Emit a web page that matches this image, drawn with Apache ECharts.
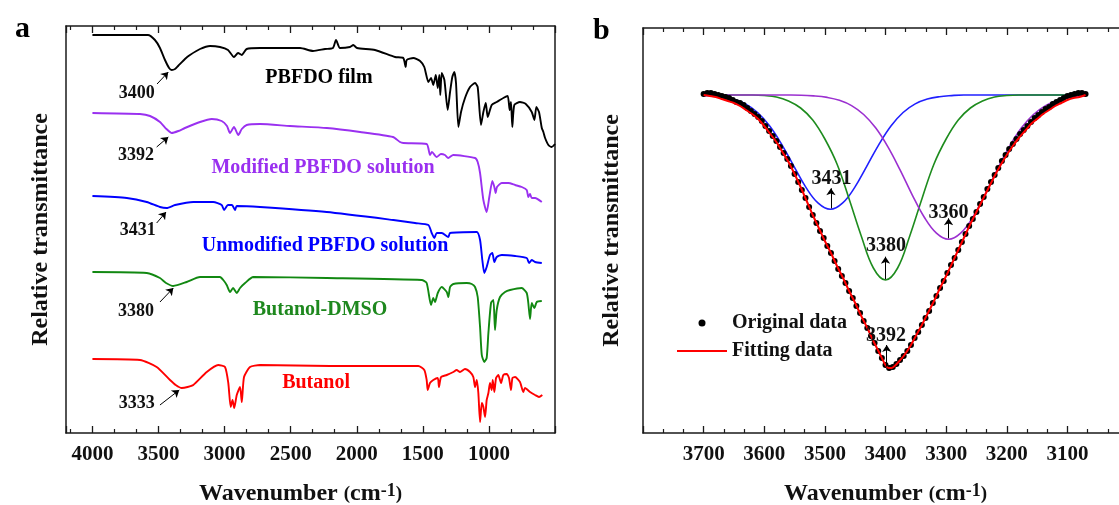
<!DOCTYPE html>
<html><head><meta charset="utf-8">
<script src="https://cdn.jsdelivr.net/npm/echarts@6/dist/echarts.min.js"></script>
<style>html,body{margin:0;padding:0;background:#fff}#c{width:1119px;height:505px}</style>
</head><body><div id="c"></div><script>
// ---------- Panel a : FTIR spectra (wavenumber, relative transmittance offset units) ----------
const filmData = [[4000,398],[3580,398],[3527,393],[3489,385],[3451,373],[3420,365],[3400,363],[3375,364],[3352,367],[3300,374],[3262,378],[3186,384],[3110,387],[3035,386],[2974,383],[2929,376],[2898,380],[2870,378],[2833,384],[2732,385],[2429,385],[2331,382],[2240,384],[2180,385],[2157,393],[2127,385],[2051,386],[2026,388],[1998,385],[1862,383],[1710,376],[1648,375],[1630,366],[1622,373],[1572,375],[1521,372],[1489,366],[1458,351],[1438,355],[1421,348],[1402,358],[1387,345],[1375,358],[1368,338],[1357,360],[1337,353],[1312,323],[1294,341],[1277,356],[1262,361],[1249,350],[1231,306],[1211,321],[1181,335],[1143,346],[1105,350],[1085,346],[1060,308],[1042,321],[1024,330],[1009,316],[979,328],[941,331],[891,335],[858,337],[843,323],[833,331],[823,306],[808,328],[765,331],[721,329],[676,321],[656,313],[641,326],[621,321],[600,305],[588,301],[575,295],[550,288],[525,286],[500,289]];
const modifiedData = [[4000,320],[3640,319],[3564,317],[3489,311],[3440,304],[3400,300],[3350,302],[3300,305],[3186,311],[3097,314],[3022,312],[2982,307],[2959,300],[2929,306],[2896,298],[2870,304],[2833,308],[2732,309],[2505,307],[2227,305],[1975,301],[1726,296],[1673,291],[1648,290],[1471,289],[1446,278],[1431,281],[1396,276],[1363,279],[1333,278],[1308,275],[1270,278],[1105,275],[1085,271],[1067,260],[1042,233],[1017,221],[997,236],[974,252],[959,246],[949,240],[939,246],[903,250],[853,250],[802,248],[751,246],[714,243],[702,236],[689,239],[676,235],[651,235],[600,231]];
const unmodifiedData = [[4000,237],[3740,235],[3589,231],[3489,226],[3438,225],[3375,228],[3237,231],[3086,231],[3022,228],[3004,223],[2974,228],[2944,228],[2921,223],[2908,227],[2732,226],[2227,221],[1723,213],[1559,210],[1458,208],[1433,200],[1413,195],[1395,200],[1357,200],[1307,196],[1294,200],[1092,201],[1067,193],[1050,173],[1035,160],[1017,166],[992,178],[974,180],[959,171],[941,176],[903,178],[802,177],[714,175],[696,170],[676,173],[651,171],[600,170]];
const butanolDmsoData = [[4000,161],[3589,160],[3489,155],[3443,150],[3388,147],[3287,151],[3186,156],[3035,156],[3010,153],[2984,148],[2959,141],[2936,145],[2908,140],[2883,145],[2845,150],[2783,156],[2227,155],[1509,153],[1471,150],[1438,128],[1421,135],[1408,131],[1387,140],[1357,146],[1319,141],[1307,136],[1294,146],[1269,149],[1168,150],[1130,149],[1105,146],[1085,136],[1067,106],[1054,78],[1035,71],[1017,75],[1004,100],[984,130],[966,133],[954,103],[941,123],[916,136],[878,141],[840,143],[752,145],[714,140],[702,130],[689,114],[676,130],[656,125],[638,131],[600,132]];
const butanolData = [[4000,74],[3640,73],[3514,66],[3413,53],[3370,48],[3324,45],[3280,46],[3237,48],[3135,61],[3048,68],[2997,66],[2972,50],[2954,26],[2940,33],[2927,25],[2908,38],[2883,46],[2870,31],[2853,56],[2808,66],[2732,68],[2202,67],[1534,67],[1489,63],[1471,53],[1463,43],[1446,50],[1421,53],[1387,55],[1378,46],[1362,56],[1319,58],[1269,61],[1244,63],[1219,61],[1181,64],[1143,61],[1118,56],[1105,46],[1092,53],[1080,40],[1067,11],[1054,30],[1042,26],[1029,16],[1017,33],[1004,40],[992,50],[979,43],[971,53],[959,41],[946,55],[929,58],[908,50],[891,58],[865,59],[848,55],[833,43],[822,55],[802,56],[765,51],[740,41],[727,45],[689,41],[651,38],[621,36],[596,38]];
const spectraNames = ['PBFDO film','Modified PBFDO solution','Unmodified PBFDO solution','Butanol-DMSO','Butanol'];
const spectraLabelPos = [[2286,355],[2255,265],[2240,187],[2278,123],[2308,50]];
const peakLabelsA = ['3400','3392','3431','3380','3333'];
const peakLabelPosA = [[3665,340],[3670,278],[3657,203],[3670,122],[3665,30]];
const peakArrowsA = [[[3511,349],[3426,361]],[[3514,286],[3426,296]],[[3514,210],[3443,221]],[[3489,131],[3388,145]],[[3489,28],[3343,43]]];
const ticksA = [1000,1500,2000,2500,3000,3500,4000];

// ---------- Panel b : peak fitting of the O-H band ----------
const originalData = [[3700,339],[3694,340],[3688,340],[3682,339],[3676,338],[3670,337],[3664,336],[3658,335],[3652,333],[3646,331],[3640,330],[3634,328],[3628,325],[3622,322],[3616,319],[3610,316],[3604,312],[3598,307],[3592,302],[3586,297],[3580,292],[3574,286],[3568,280],[3562,274],[3556,267],[3550,259],[3544,251],[3538,243],[3532,235],[3526,226],[3520,218],[3514,210],[3508,202],[3502,195],[3496,187],[3490,180],[3484,172],[3478,164],[3472,157],[3466,150],[3460,142],[3454,135],[3448,127],[3442,120],[3436,112],[3430,105],[3424,97],[3418,90],[3412,82],[3406,75],[3400,68],[3394,65],[3388,66],[3382,69],[3376,73],[3370,77],[3364,82],[3358,88],[3352,95],[3346,101],[3340,108],[3334,115],[3328,122],[3322,130],[3316,137],[3310,145],[3304,152],[3298,160],[3292,168],[3286,175],[3280,183],[3274,191],[3268,199],[3262,207],[3256,214],[3250,221],[3244,229],[3238,236],[3232,244],[3226,251],[3220,258],[3214,265],[3208,272],[3202,278],[3196,284],[3190,289],[3184,294],[3178,299],[3172,303],[3166,307],[3160,311],[3154,315],[3148,318],[3142,321],[3136,324],[3130,326],[3124,329],[3118,331],[3112,333],[3106,335],[3100,337],[3094,338],[3088,339],[3082,340],[3076,340],[3070,339]];
const fittingData = [[3700,338],[3690,337],[3680,336],[3670,334],[3660,332],[3650,330],[3640,327],[3630,323],[3620,319],[3610,314],[3600,307],[3590,299],[3580,291],[3570,281],[3560,271],[3550,259],[3540,246],[3530,232],[3520,218],[3510,205],[3500,192],[3490,180],[3480,167],[3470,155],[3460,142],[3450,130],[3440,117],[3430,105],[3420,92],[3410,80],[3400,68],[3395,65],[3390,65],[3385,67],[3380,70],[3370,77],[3360,86],[3350,97],[3340,108],[3330,120],[3320,132],[3310,145],[3300,157],[3290,170],[3280,183],[3270,196],[3260,209],[3250,221],[3240,233],[3230,245],[3220,257],[3210,268],[3200,278],[3190,287],[3180,295],[3170,302],[3160,309],[3150,314],[3140,319],[3130,323],[3120,327],[3110,330],[3100,333],[3090,335],[3080,336],[3070,338]];
const peak3431 = [[3700,337.6],[3691,337.4],[3671,336.3],[3651,333.9],[3631,329.1],[3611,320.5],[3591,307],[3571,288.4],[3551,266.6],[3531,245.4],[3511,229.8],[3491,223.7],[3471,229.8],[3451,245.4],[3431,266.6],[3411,288.4],[3391,307],[3371,320.5],[3351,329.1],[3331,333.9],[3311,336.3],[3291,337.4],[3271,338],[3070,338]];
const peak3380 = [[3700,338],[3620,338],[3600,337.5],[3580,336],[3560,332],[3540,325],[3520,313],[3500,294],[3480,269],[3460,234],[3440,197],[3420,165],[3400,153],[3380,165],[3360,197],[3340,234],[3320,269],[3300,294],[3280,313],[3260,325],[3240,332],[3220,336],[3200,337.5],[3180,338],[3070,338]];
const peak3360 = [[3700,338],[3556,338],[3516,337],[3496,335.6],[3476,332.7],[3456,327.4],[3436,318.5],[3416,304.9],[3396,286.1],[3376,263.1],[3356,238.2],[3336,215.7],[3316,199.8],[3296,193.7],[3276,199.8],[3256,215.7],[3236,238.2],[3216,263.1],[3196,286.1],[3176,304.9],[3156,318.5],[3136,327.4],[3116,332.7],[3096,335.6],[3070,337.3]];
const peakLabelsB = ['3431','3380','3360','3392'];
const peakLabelPosB = [[3489,254],[3399,187],[3296,220.5],[3399,97]];
const peakArrowsB = [[[3490,224.7],[3490,244.7]],[[3400,153.7],[3400,176.3]],[[3296,194.7],[3296,214.7]],[[3398,66.3],[3398,88]]];
const ticksB = [3100,3200,3300,3400,3500,3600,3700];

// ---------- styles ----------
const FONT = '"Liberation Serif","Times New Roman",serif';
const INK = '#111';
const colorsA = ['#000000','#9a30f0','#0000ff','#118811','#ff0000'];
const labelColorsA = ['#000000','#9a30f0','#0000ff','#1e881e','#ff0000'];
const HIDDEN = {color:'rgba(0,0,0,0)', opacity:1};
const LINE_ICON = 'path://M0,0h0.1v0.1h-0.1z M0,2.6h50v1.8h-50z M49.9,6.9h0.1v0.1h-0.1z';

function xAxisCfg(grid, min, max, interval, pos, showLabels, ticks, nameRich, namePad){
  const ax = {
    gridIndex: grid, type:'value', min:min, max:max, interval:interval, inverse:true, position:pos,
    axisLine:{show:true, onZero:false, lineStyle:{color:'#1a1a1a', width:1.5}},
    axisTick:{show:true, inside:true, length:7, lineStyle:{color:'#1a1a1a', width:1.3}},
    minorTick:{show:true, splitNumber:3, length:4, lineStyle:{color:'#1a1a1a', width:1.2}},
    splitLine:{show:false}, minorSplitLine:{show:false},
    axisLabel:{show:showLabels, margin:11, fontFamily:FONT, fontSize:21, fontWeight:'bold', color:INK,
      formatter: v => ticks.indexOf(v) >= 0 ? String(v) : ''}
  };
  if (nameRich){
    ax.name = '{t|Wavenumber }{p|(}{t|cm}{s|-1}{p|)}';
    ax.nameLocation = 'middle';
    ax.nameGap = 49;
    ax.nameTextStyle = {padding:namePad, rich:{
      t:{fontFamily:FONT, fontSize:24, fontWeight:'bold', color:INK},
      p:{fontFamily:FONT, fontSize:19, fontWeight:'bold', color:INK},
      s:{fontFamily:FONT, fontSize:18, fontWeight:'bold', color:INK, verticalAlign:'top'}
    }};
  }
  return ax;
}
function yAxisCfg(grid, max, pos, named, gap){
  const ax = {gridIndex:grid, type:'value', min:0, max:max, position:pos,
    axisLine:{show:true, onZero:false, lineStyle:{color:'#1a1a1a', width:1.5}},
    axisTick:{show:false}, axisLabel:{show:false}, splitLine:{show:false}};
  if (named){
    ax.name = 'Relative transmittance'; ax.nameLocation = 'middle'; ax.nameGap = gap;
    ax.nameTextStyle = {fontFamily:FONT, fontSize:24, fontWeight:'bold', color:INK};
  }
  return ax;
}

const series = [];
[filmData, modifiedData, unmodifiedData, butanolDmsoData, butanolData].forEach((d,i)=>{
  series.push({type:'line', name:spectraNames[i], xAxisIndex:0, yAxisIndex:0, data:d, symbol:'none',
    smooth:0.2, lineStyle:{color:colorsA[i], width:1.9}, itemStyle:{color:colorsA[i]}, silent:true, z:2});
});
series.push({type:'scatter', xAxisIndex:0, yAxisIndex:0, symbolSize:1, silent:true, z:5,
  itemStyle:HIDDEN,
  data: spectraNames.map((n,i)=>({name:n, value:spectraLabelPos[i],
    label:{show:true, position:'inside', formatter:'{b}', fontFamily:FONT, fontSize:20, fontWeight:'bold', color:labelColorsA[i]}}))});
series.push({type:'scatter', xAxisIndex:0, yAxisIndex:0, symbolSize:1, silent:true, z:5,
  itemStyle:HIDDEN,
  label:{show:true, position:'inside', formatter:'{b}', fontFamily:FONT, fontSize:18, fontWeight:'bold', color:INK},
  data: peakLabelsA.map((n,i)=>({name:n, value:peakLabelPosA[i]}))});
series.push({type:'lines', coordinateSystem:'cartesian2d', xAxisIndex:0, yAxisIndex:0, silent:true, z:5,
  symbol:['none','arrow'], symbolSize:7, lineStyle:{color:'#000', width:1, opacity:1},
  data: peakArrowsA.map(c=>({coords:c}))});

// panel b
const compColors = ['#2020ff','#1e8c1e','#9b30d0'];
[peak3431, peak3380, peak3360].forEach((d,i)=>{
  series.push({type:'line', xAxisIndex:2, yAxisIndex:2, data:d, symbol:'none', smooth:0.4, silent:true,
    lineStyle:{color:compColors[i], width:1.6}, z:2});
});
series.push({type:'scatter', name:'Original data', xAxisIndex:2, yAxisIndex:2, data:originalData, symbol:'circle',
  symbolSize:6, itemStyle:{color:'#000', opacity:1}, silent:true, z:3});
series.push({type:'line', name:'Fitting data', xAxisIndex:2, yAxisIndex:2, data:fittingData, symbol:'none', smooth:0.3,
  lineStyle:{color:'#ff0000', width:2}, itemStyle:{color:'#ff0000'}, silent:true, z:4});
series.push({type:'scatter', xAxisIndex:2, yAxisIndex:2, symbolSize:1, silent:true, z:6,
  itemStyle:HIDDEN,
  label:{show:true, position:'inside', formatter:'{b}', fontFamily:FONT, fontSize:20, fontWeight:'bold', color:INK},
  data: peakLabelsB.map((n,i)=>({name:n, value:peakLabelPosB[i]}))});
series.push({type:'lines', coordinateSystem:'cartesian2d', xAxisIndex:2, yAxisIndex:2, silent:true, z:6,
  symbol:['none','arrow'], symbolSize:7, lineStyle:{color:'#000', width:1, opacity:1},
  data: peakArrowsB.map(c=>({coords:c}))});

const chart = echarts.init(document.getElementById('c'), null, {renderer:'canvas'});
chart.setOption({
  animation:false,
  backgroundColor:'#fff',
  title:[
    {text:'a', left:10, top:9, textStyle:{fontFamily:FONT, fontSize:30, fontWeight:'bold', color:'#000'}},
    {text:'b', left:588, top:11, textStyle:{fontFamily:FONT, fontSize:30, fontWeight:'bold', color:'#000'}}
  ],
  grid:[
    {left:66, top:26, width:489, height:407, outerBoundsMode:'none', containLabel:false},
    {left:643, top:28, width:485, height:405, outerBoundsMode:'none', containLabel:false}
  ],
  xAxis:[
    xAxisCfg(0, 500, 4200, 500, 'bottom', true, ticksA, true, [0,20,0,0]),
    xAxisCfg(0, 500, 4200, 500, 'top', false, ticksA, false),
    xAxisCfg(1, 3000, 3800, 100, 'bottom', true, ticksB, true, [0,0,0,0]),
    xAxisCfg(1, 3000, 3800, 100, 'top', false, ticksB, false)
  ],
  yAxis:[
    yAxisCfg(0, 407, 'left', true, 13),
    yAxisCfg(0, 407, 'right', false),
    yAxisCfg(1, 405, 'left', true, 19),
    yAxisCfg(1, 405, 'right', false)
  ],
  legend:{data:[{name:'Original data', icon:'circle'},{name:'Fitting data', icon:LINE_ICON}], orient:'vertical', left:672, top:308, itemWidth:50, itemHeight:7,
    itemGap:8, selectedMode:false, textStyle:{fontFamily:FONT, fontSize:20, fontWeight:'bold', color:INK}},
  series: series
});
</script></body></html>
